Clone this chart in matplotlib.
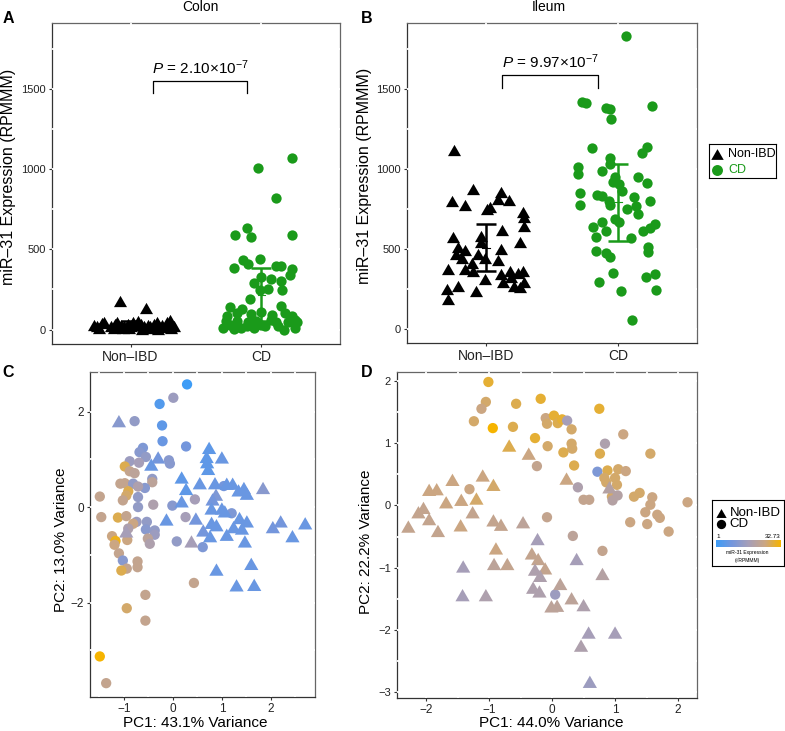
import numpy as np
import matplotlib
matplotlib.use("Agg")
import matplotlib.pyplot as plt
from matplotlib.colors import LinearSegmentedColormap, Normalize
from matplotlib.cm import ScalarMappable

plt.rcParams['font.family'] = ['Liberation Sans', 'DejaVu Sans']
plt.rcParams['mathtext.fontset'] = 'custom'
plt.rcParams['mathtext.rm'] = 'Liberation Sans'
plt.rcParams['mathtext.it'] = 'Liberation Sans:italic'

groups = ['Non–IBD', 'CD']

# ---- panel A: colon (jitter offset from category, expression RPMMM)
colon_non_jit = [-0.28, -0.26, -0.22, -0.20, -0.15, -0.12, -0.10, -0.07, -0.05, -0.02,
                 0.00, 0.02, 0.04, 0.06, 0.08, 0.10, 0.13, 0.15, 0.18, 0.20,
                 0.22, 0.24, 0.26, 0.28, 0.30, 0.31, 0.33, -0.13, -0.06, 0.14,
                 0.21, 0.31, -0.24, -0.01, 0.09, -0.08, 0.12]
colon_non_expr = [31, 21, 41, 46, 21, 35, 46, 31, 21, 37,
                  21, 50, 31, 56, 37, 21, 31, 21, 37, 46,
                  21, 31, 17, 46, 62, 25, 21, 10, 10, 10,
                  6, 8, 10, 8, 6, 176, 135]
colon_cd_jit = [0.23, -0.03, 0.11, -0.20, -0.11, -0.08, 0.23, -0.14, -0.01, -0.21,
                -0.10, 0.11, 0.15, 0.23, 0.22, 0.07, -0.06, 0.00, 0.15, 0.16,
                -0.01, 0.05, -0.09, -0.24, 0.15, 0.23, -0.15, -0.26, -0.19, -0.08,
                0.00, 0.08, 0.18, 0.26, -0.29, -0.24, -0.19, -0.11, -0.04, 0.03,
                0.11, 0.17, 0.26, -0.27, -0.16, -0.06, 0.00, 0.07, 0.13, 0.20,
                0.27, -0.21, -0.10]
colon_cd_expr = [1069, 1006, 820, 591, 633, 575, 591, 436, 442, 384,
                 411, 394, 394, 378, 342, 315, 291, 328, 301, 249,
                 245, 253, 191, 141, 145, 83, 125, 83, 104, 100,
                 108, 93, 104, 62, 10, 31, 52, 21, 52, 21,
                 46, 0, 10, 52, 10, 10, 31, 62, 21, 46,
                 46, 4, 46]
colon_bars = [(8, 31, 55), (52, 215, 382)]     # (lower, centre, upper)

# ---- panel B: ileum
ileum_non_jit = [-0.24, -0.10, -0.26, -0.16, 0.11, 0.17, 0.09, 0.03, 0.01, 0.28,
                 0.29, 0.29, -0.25, -0.04, 0.12, 0.26, -0.21, -0.16, -0.23, -0.18,
                 -0.04, -0.06, -0.01, 0.11, 0.09, -0.11, -0.29, -0.16, -0.10, -0.01,
                 0.11, 0.18, 0.19, 0.24, 0.28, 0.13, 0.21, 0.26, 0.29, -0.30,
                 -0.21, -0.08, -0.29]
ileum_non_expr = [1117, 873, 800, 773, 852, 804, 810, 762, 748, 727,
                  696, 644, 575, 581, 617, 544, 508, 492, 467, 442,
                  540, 467, 442, 498, 431, 410, 373, 373, 362, 310,
                  342, 362, 321, 346, 358, 290, 269, 258, 290, 248,
                  265, 237, 185]
ileum_cd_jit = [0.06, -0.27, -0.24, -0.09, -0.06, -0.05, 0.26, -0.20, 0.22, 0.18,
                -0.06, -0.30, -0.30, -0.12, -0.06, -0.02, -0.04, 0.01, 0.15, 0.22,
                0.03, -0.29, -0.29, -0.16, -0.12, -0.07, -0.06, 0.12, 0.24, 0.07,
                0.15, 0.14, -0.02, 0.01, -0.12, -0.19, -0.17, -0.09, 0.28, 0.24,
                0.19, 0.10, 0.23, 0.23, -0.17, -0.09, -0.06, -0.04, -0.14, 0.02,
                0.21, 0.28, 0.29, 0.11]
ileum_cd_expr = [1827, 1414, 1408, 1379, 1373, 1310, 1391, 1127, 1137, 1096,
                 1064, 1012, 967, 987, 1029, 950, 919, 904, 950, 908,
                 862, 846, 773, 837, 831, 800, 773, 825, 796, 748,
                 717, 769, 685, 664, 664, 633, 571, 612, 654, 627,
                 612, 567, 508, 481, 483, 471, 450, 348, 290, 237,
                 321, 342, 242, 56]
ileum_bars = [(358, 502, 654), (550, 790, 1029)]

p_values = ['2.10', '9.97']

# ---- panel C: colon PCA (x = PC1, y = PC2, v = sqrt RPMMM)
c_cir_x = [0.29, -0.27, 0.01, -0.78, -0.22, -0.21, 0.27, -0.61, -0.68, -0.55,
           -0.88, -0.69, -0.08, -0.06, -0.98, -0.88, -0.78, -1.07, -0.98, -0.81,
           -0.42, -0.42, -0.57, -0.71, -0.91, -0.95, -0.71, -1.02, -1.49, -0.71,
           -0.40, -0.01, 0.45, -1.46, -1.12, -0.95, -0.74, -0.53, -0.81, -0.91,
           -0.55, -0.37, -0.37, -1.24, -1.17, -1.19, -0.93, -0.51, -0.47, 0.08,
           0.26, 0.61, -1.10, -1.02, -0.72, -0.72, -0.94, -1.05, 0.43, -0.56,
           -0.94, -0.56, -1.49, -1.36, 1.04, 1.20]
c_cir_y = [2.57, 2.16, 2.29, 1.80, 1.71, 1.38, 1.27, 1.24, 1.15, 1.05,
           0.96, 0.93, 0.98, 0.91, 0.85, 0.75, 0.71, 0.49, 0.50, 0.49,
           0.59, 0.52, 0.40, 0.43, 0.33, 0.24, 0.21, 0.14, 0.22, 0.00,
           0.05, 0.03, 0.16, -0.21, -0.22, -0.19, -0.31, -0.31, -0.35, -0.45,
           -0.47, -0.49, -0.58, -0.61, -0.71, -0.79, -0.69, -0.66, -0.77, -0.72,
           -0.21, -0.84, -0.97, -1.12, -1.14, -1.26, -1.29, -1.33, -1.59, -1.84,
           -2.12, -2.38, -3.13, -3.69, 0.44, -0.13]
c_cir_v = [1.0, 4.2, 15.3, 13.7, 5.8, 7.3, 8.9, 10.5, 12.1, 13.7,
           15.3, 16.9, 12.1, 12.1, 28.0, 23.2, 21.6, 23.2, 23.2, 13.7,
           13.7, 21.6, 12.1, 18.5, 28.0, 26.4, 13.7, 23.2, 23.2, 13.7,
           18.5, 12.1, 16.9, 23.2, 28.0, 23.2, 15.3, 13.7, 24.8, 18.5,
           12.1, 13.7, 15.3, 24.8, 31.1, 24.8, 24.8, 21.6, 18.5, 13.7,
           16.9, 10.5, 23.2, 12.1, 23.2, 23.2, 23.2, 28.0, 23.2, 23.2,
           26.4, 23.2, 32.7, 23.2, 8.9, 10.5]
c_tri_x = [-1.10, -0.30, -0.44, 0.74, 0.69, 0.70, 0.72, 1.00, 0.18, 0.55,
           0.27, 0.86, 1.10, 1.22, 1.34, 1.45, 1.51, 1.84, 0.88, 0.81,
           0.18, 0.79, 1.00, 1.06, -0.13, 0.47, 0.79, 0.89, 1.36, 1.51,
           1.24, 1.41, 0.62, 0.76, 1.10, 1.47, 2.04, 2.20, 2.70, 2.44,
           0.38, -0.95, 0.89, 1.60, 1.30, 1.66]
c_tri_y = [1.80, 1.04, 0.89, 1.24, 1.05, 0.94, 0.80, 1.04, 0.62, 0.50,
           0.38, 0.50, 0.49, 0.49, 0.35, 0.40, 0.28, 0.40, 0.26, 0.16,
           0.12, -0.03, -0.03, -0.09, -0.26, -0.24, -0.33, -0.38, -0.23, -0.30,
           -0.42, -0.45, -0.49, -0.61, -0.58, -0.72, -0.42, -0.30, -0.34, -0.61,
           -0.72, -0.51, -1.31, -1.19, -1.64, -1.63]
c_tri_v = [12.1, 8.9, 7.3, 5.8, 5.8, 5.8, 5.8, 7.3, 5.8, 7.3,
           5.8, 7.3, 7.3, 7.3, 7.3, 7.3, 7.3, 12.1, 10.5, 8.9,
           7.3, 7.3, 7.3, 7.3, 7.3, 8.9, 7.3, 7.3, 7.3, 7.3,
           7.3, 7.3, 8.9, 7.3, 7.3, 7.3, 8.9, 8.9, 7.3, 7.3,
           16.9, 16.9, 7.3, 7.3, 7.3, 7.3]

# ---- panel D: ileum PCA
d_cir_x = [-1.01, -1.05, -1.12, -0.57, -0.18, 0.75, -1.24, -0.94, -0.62, -0.27,
           -0.10, -0.08, 0.03, 0.09, 0.16, 0.24, 0.31, -0.07, 0.31, 0.32,
           0.18, 0.35, -0.24, 0.84, 1.13, 0.76, 1.56, 0.72, 0.88, 1.05,
           1.17, 0.83, 0.86, 1.00, 1.03, 0.41, -1.31, 0.50, 0.59, 0.95,
           0.96, 1.04, 1.30, 1.39, 1.59, 1.56, 1.48, 1.67, 1.71, 2.15,
           1.24, 1.51, 1.85, -0.08, 0.33, 0.80, 0.05]
d_cir_y = [1.98, 1.66, 1.55, 1.63, 1.71, 1.55, 1.35, 1.24, 1.26, 1.08,
           1.40, 1.31, 1.44, 1.32, 1.38, 1.36, 1.22, 0.95, 0.99, 0.91,
           0.85, 0.64, 0.63, 0.99, 1.14, 0.83, 0.83, 0.54, 0.56, 0.58,
           0.55, 0.44, 0.37, 0.44, 0.33, 0.29, 0.26, 0.09, 0.09, 0.14,
           0.08, 0.16, 0.14, 0.20, 0.13, 0.01, -0.11, -0.15, -0.20, 0.05,
           -0.27, -0.30, -0.42, -0.19, -0.49, -0.73, -1.43]
d_cir_v = [29.6, 26.4, 24.8, 28.0, 29.6, 29.6, 26.4, 32.7, 28.0, 29.6,
           24.8, 26.4, 29.6, 28.0, 29.6, 16.9, 26.4, 26.4, 26.4, 26.4,
           28.0, 28.0, 23.2, 18.5, 24.8, 28.0, 26.4, 10.5, 28.0, 26.4,
           24.8, 26.4, 26.4, 26.4, 26.4, 18.5, 24.8, 23.2, 23.2, 26.4,
           20.0, 20.0, 26.4, 26.4, 24.8, 24.8, 24.8, 24.8, 24.8, 24.8,
           24.8, 24.8, 24.8, 23.2, 21.6, 23.2, 15.3]
d_tri_x = [-0.68, -0.37, -1.10, -0.93, -1.58, -1.95, -1.83, -1.68, -1.44, -1.20,
           -1.26, -2.04, -2.12, -1.95, -2.28, -1.81, -1.45, -0.93, -0.81, -0.46,
           0.23, 0.91, -0.23, -0.89, -0.32, -0.22, -0.11, -0.27, -0.19, -1.41,
           -0.92, -0.71, 0.39, 0.80, 0.13, -0.30, -0.20, -1.42, -1.05, 0.31,
           0.50, -0.01, 0.08, 0.58, 1.00, 0.46, 0.60]
d_tri_y = [0.96, 0.83, 0.48, 0.33, 0.41, 0.25, 0.26, 0.05, 0.09, 0.11,
           -0.11, -0.04, -0.11, -0.22, -0.34, -0.41, -0.32, -0.24, -0.31, -0.27,
           0.43, 0.29, -0.54, -0.69, -0.77, -0.86, -1.01, -1.03, -1.13, -0.98,
           -0.94, -0.94, -0.86, -1.10, -1.26, -1.32, -1.38, -1.44, -1.44, -1.49,
           -1.60, -1.62, -1.61, -2.04, -2.04, -2.25, -2.83]
d_tri_v = [28.0, 24.8, 24.8, 26.4, 24.8, 24.8, 24.8, 24.8, 24.8, 26.4,
           23.2, 23.2, 23.2, 23.2, 23.2, 23.2, 24.8, 23.2, 23.2, 21.6,
           24.8, 20.0, 16.9, 24.8, 23.2, 23.2, 23.2, 18.5, 18.5, 16.9,
           21.6, 23.2, 16.9, 20.0, 21.6, 18.5, 18.5, 16.9, 18.5, 21.6,
           18.5, 21.6, 21.6, 16.9, 16.9, 18.5, 15.3]

expr_range = (1, 32.73)

# ------------------------------------------------------------------
W, H = 785, 731
fig = plt.figure(figsize=(W / 100, H / 100), dpi=100)


def box(l, t, r, b):
    return [l / W, 1 - b / H, (r - l) / W, (b - t) / H]


def ftext(px, py, s, **kw):
    fig.text(px / W, 1 - py / H, s, ha=kw.pop('ha', 'center'), va=kw.pop('va', 'center'), **kw)


green = '#1a9a1a'
tri = [(-0.5, -0.433), (0.5, -0.433), (0.0, 0.433)]   # equilateral, width = marker size
cmap = LinearSegmentedColormap.from_list(
    'mir31', ['#3d9cf6', '#7596dc', '#a69eb8', '#caa684', '#f6b400'])
norm = Normalize(*expr_range)


def style(ax, xgaps, ygaps, xfs, yfs):
    for side in ['left', 'bottom']:
        ax.spines[side].set_color('#333333')
    for side in ['top', 'right']:
        ax.spines[side].set_color('#666666')
    for s in ax.spines.values():
        s.set_linewidth(0.9)
    ax.tick_params(length=2.5, width=0.8, color='#333333', labelcolor='#222222', pad=2)
    ax.tick_params(axis='x', labelsize=xfs)
    ax.tick_params(axis='y', labelsize=yfs)
    # white grid lines break the panel border like the original
    for v in xgaps:
        ax.axvline(v, color='white', lw=1.3, zorder=2.6, clip_on=False, solid_capstyle='butt')
    for v in ygaps:
        ax.axhline(v, color='white', lw=1.3, zorder=2.6, clip_on=False, solid_capstyle='butt')


def strip(ax, non_jit, non_expr, cd_jit, cd_expr, bars, bracket, pval):
    ax.scatter(1 + np.array(non_jit), non_expr, marker=tri, s=88, color='black',
               linewidths=0, zorder=3)
    ax.scatter(2 + np.array(cd_jit), cd_expr, marker='o', s=55, color=green,
               linewidths=0, zorder=3)
    for i, (lo, mid, hi) in enumerate(bars):
        c = 'black' if i == 0 else green
        x = i + 1
        ax.errorbar([x], [mid], yerr=[[mid - lo], [hi - mid]], fmt='none', ecolor=c,
                    elinewidth=1.8, capsize=7, capthick=1.8, zorder=4)
        ax.plot([x - 0.03, x + 0.03], [mid, mid], color=c, lw=0.8, zorder=4)
    x0, x1, y0, y1 = bracket
    ax.plot([x0, x0, x1, x1], [y0, y1, y1, y0], color='black', lw=0.9, zorder=4)
    ax.text((x0 + x1) / 2, y1 + 25, r'$P$ = ' + pval + r'×10$^{-7}$', ha='center',
            va='bottom', fontsize=11)
    ax.set_xticks([1, 2])
    ax.set_xticklabels(groups)
    ax.set_yticks([0, 500, 1000, 1500])
    style(ax, [1, 2], [0, 250, 500, 750, 1000, 1250, 1500, 1750], 10, 8)
    ax.set_xlim(0.4, 2.6)
    ax.set_ylim(-90, 1910)


axA = fig.add_axes(box(52, 23, 340, 344))
strip(axA, colon_non_jit, colon_non_expr, colon_cd_jit, colon_cd_expr, colon_bars,
      (1.17, 1.89, 1475, 1550), p_values[0])
axB = fig.add_axes(box(407, 23, 697, 343))
strip(axB, ileum_non_jit, ileum_non_expr, ileum_cd_jit, ileum_cd_expr, ileum_bars,
      (1.12, 1.85, 1506, 1587), p_values[1])


def pca(ax, tx, ty, tv, cx, cy, cv):
    ax.scatter(cx, cy, c=cv, cmap=cmap, norm=norm, marker='o', s=55, linewidths=0, zorder=3)
    ax.scatter(tx, ty, c=tv, cmap=cmap, norm=norm, marker=tri, s=105, linewidths=0, zorder=3)


axC = fig.add_axes(box(90, 372, 315, 697))
pca(axC, c_tri_x, c_tri_y, c_tri_v, c_cir_x, c_cir_y, c_cir_v)
axC.set_xticks([-1, 0, 1, 2])
axC.set_yticks([-2, 0, 2])
style(axC, [-1.5, -1, -0.5, 0, 0.5, 1, 1.5, 2, 2.5], [-3, -2, -1, 0, 1, 2], 8.5, 8.5)
axC.set_xlim(-1.69, 2.90)
axC.set_ylim(-3.98, 2.83)

axD = fig.add_axes(box(397, 372, 697, 698))
pca(axD, d_tri_x, d_tri_y, d_tri_v, d_cir_x, d_cir_y, d_cir_v)
axD.set_xticks([-2, -1, 0, 1, 2])
axD.set_yticks([-3, -2, -1, 0, 1, 2])
style(axD, np.arange(-2, 2.01, 0.5), np.arange(-3, 2.01, 0.5), 8.5, 8)
axD.set_xlim(-2.46, 2.30)
axD.set_ylim(-3.09, 2.14)

# titles, panel letters, axis labels
ftext(200, 7, 'Colon', fontsize=10)
ftext(549, 7, 'Ileum', fontsize=10)
for px, py, s in [(8, 18.5, 'A'), (367, 18.5, 'B'), (8, 372, 'C'), (367, 372, 'D')]:
    ftext(px, py, s, fontsize=11.5, fontweight='bold')
ftext(9, 177, 'miR–31 Expression (RPMMM)', rotation=90, fontsize=11.5)
ftext(364, 176, 'miR–31 Expression (RPMMM)', rotation=90, fontsize=11.5)
ftext(61, 540, 'PC2: 13.0% Variance', rotation=90, fontsize=11)
ftext(366, 542, 'PC2: 22.2% Variance', rotation=90, fontsize=11)
ftext(195, 723, 'PC1: 43.1% Variance', fontsize=11)
ftext(551, 723, 'PC1: 44.0% Variance', fontsize=11)

# legend for A/B
lg = fig.add_axes(box(709, 144, 776, 178))
lg.set_xlim(0, 67)
lg.set_ylim(34, 0)
lg.set_xticks([])
lg.set_yticks([])
for s in lg.spines.values():
    s.set_linewidth(0.8)
    s.set_color('black')
lg.scatter([8], [10], marker=tri, s=80, color='black', linewidths=0)
lg.scatter([7.5], [26], marker='o', s=62, color=green, linewidths=0)
lg.text(19, 10, 'Non-IBD', va='center', fontsize=9)
lg.text(19, 26, 'CD', va='center', fontsize=9, color=green)

# legend for C/D with colour bar
lg2 = fig.add_axes(box(712, 500, 784, 566))
lg2.set_xlim(0, 72)
lg2.set_ylim(66, 0)
lg2.set_xticks([])
lg2.set_yticks([])
for s in lg2.spines.values():
    s.set_linewidth(0.8)
    s.set_color('black')
lg2.scatter([9], [12.7], marker=tri, s=55, color='black', linewidths=0)
lg2.scatter([8.7], [24.3], marker='o', s=45, color='black', linewidths=0)
lg2.text(18, 12.7, 'Non-IBD', va='center', fontsize=9.5)
lg2.text(17.5, 24.3, 'CD', va='center', fontsize=9.5)
lg2.text(4, 36, '1', va='center', ha='left', fontsize=4.5)
lg2.text(68.7, 36, '32.73', va='center', ha='right', fontsize=4.5)
lg2.text(35.3, 52.7, 'miR-31 Expression', va='center', ha='center', fontsize=3.6)
lg2.text(35.3, 60, '(√RPMMM)', va='center', ha='center', fontsize=3.6)
cax = fig.add_axes(box(716, 540, 781, 547))
cb = fig.colorbar(ScalarMappable(norm=norm, cmap=cmap), cax=cax, orientation='horizontal')
cb.set_ticks([])
cb.outline.set_visible(False)

fig.savefig('out.png', dpi=100)
